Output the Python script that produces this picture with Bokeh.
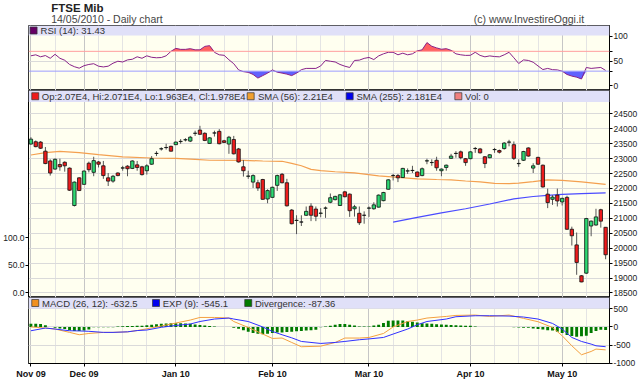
import numpy as np
from bokeh.plotting import figure
from bokeh.layouts import column
from bokeh.models import (Range1d, LinearAxis, FixedTicker, BoxAnnotation, Span, Label,
                          PrintfTickFormatter, Grid)
from bokeh.core.properties import value
from bokeh.embed import file_html
from bokeh.resources import INLINE

FONT = "Liberation Sans"

# ---------------- data ----------------
month_ticks = [0, 11, 30, 50, 70, 91, 110]
month_labels = ["Nov 09", "Dec 09", "Jan 10", "Feb 10", "Mar 10", "Apr 10", "May 10"]
week_ticks = [5, 14, 19, 24, 35, 40, 45, 55, 60, 65, 75, 80, 85, 96, 101, 105, 115]

opens = [
    23487, 23564, 23553, 23248, 22921, 22649, 22801, 22877, 22681, 21429,
    22355, 22137, 22845, 22540, 22888, 22758, 22355, 22246, 22518, 22681,
    22747, 22671, 22790, 22725, 22594, 22812, 23171, 23324, 23368, 23411,
    23466, 23570, 23625, 23585, 23845, 23955, 23847, 23509, 23855, 23912,
    23596, 23487, 23640, 23324, 22725, 22409, 22213, 22191, 22300, 21647,
    21701, 22104, 22474, 22191, 21277, 20928, 20873, 21102, 21407, 21310,
    21168, 21340, 21538, 21625, 21429, 21886, 21810, 21320, 21168, 21100,
    21340, 21320, 21375, 21592, 21973, 22431, 22431, 22366, 22583, 22600,
    22551, 22431, 22921, 22866, 22943, 22594, 22703, 23008, 23171, 23226,
    22997, 22997, 23335, 23324, 23062, 23030, 23300, 23269, 23335, 23550,
    23466, 22830, 22943, 23357, 22681, 23041, 22779, 21810, 21636, 21777,
    21549, 21701, 20634, 20111, 19077, 19164, 20743, 20776, 21288, 20700,
]
highs = [
    23716, 23607, 23585, 23389, 22975, 23008, 22997, 22910, 22703, 22235,
    22377, 22605, 22899, 23062, 22921, 22921, 22518, 22453, 22540, 22758,
    22779, 22943, 22921, 22758, 22812, 23084, 23248, 23378, 23498, 23433,
    23564, 23651, 23683, 23760, 23934, 24097, 23880, 23716, 23934, 23988,
    23629, 23760, 23760, 23357, 22953, 22594, 22474, 22289, 22322, 21973,
    22060, 22464, 22518, 22322, 21310, 21102, 21102, 21396, 21505, 21396,
    21342, 21396, 21832, 21756, 21810, 21919, 21832, 21451, 21396, 21233,
    21396, 21538, 21800, 21886, 22310, 22485, 22485, 22690, 22671, 22758,
    22570, 22703, 22997, 22975, 23062, 22671, 22801, 23160, 23248, 23269,
    23019, 23248, 23389, 23357, 23084, 23150, 23357, 23302, 23553, 23629,
    23574, 22975, 23260, 23378, 22845, 23062, 22801, 21995, 21777, 21995,
    21690, 21756, 20721, 20525, 19099, 21015, 20928, 21320, 21320, 20710,
]
lows = [
    23466, 23378, 23324, 22812, 22431, 22627, 22594, 22562, 21919, 21396,
    21919, 22126, 22540, 22409, 22703, 22322, 22082, 22191, 22409, 22594,
    22409, 22649, 22594, 22431, 22464, 22790, 23084, 23269, 23302, 23237,
    23455, 23498, 23574, 23553, 23760, 23792, 23585, 23498, 23738, 23477,
    23520, 23160, 23139, 22866, 22398, 22322, 22017, 21919, 21625, 21505,
    21690, 21919, 22170, 21396, 20797, 20471, 20743, 21080, 20906, 20906,
    21037, 21015, 21505, 21600, 21418, 21701, 21048, 21059, 20776, 20819,
    21048, 21288, 21360, 21570, 21960, 22268, 22213, 22350, 22485, 22518,
    22380, 22409, 22812, 22758, 22594, 22409, 22594, 22990, 23030, 22975,
    22758, 22980, 23193, 23171, 22681, 23010, 23193, 23171, 23302, 23411,
    22953, 22725, 22920, 23062, 22518, 22790, 22028, 21342, 21451, 21396,
    21429, 20612, 20090, 19109, 18860, 19140, 20400, 20754, 20689, 19630,
]
closes = [
    23651, 23400, 23346, 22834, 22518, 22975, 22725, 22758, 21941, 22213,
    21930, 22583, 22627, 22932, 22812, 22431, 22246, 22409, 22431, 22690,
    22660, 22921, 22703, 22464, 22758, 22997, 23175, 23330, 23372, 23248,
    23553, 23578, 23632, 23716, 23850, 23814, 23607, 23694, 23860, 23498,
    23542, 23716, 23160, 22888, 22594, 22415, 22431, 22017, 21636, 21930,
    22039, 22431, 22191, 21418, 20819, 20935, 20880, 21233, 21102, 21070,
    21175, 21345, 21690, 21734, 21788, 21723, 21255, 21386, 20852, 21105,
    21345, 21451, 21777, 21865, 22289, 22436, 22355, 22671, 22590, 22605,
    22398, 22660, 22926, 22870, 22692, 22649, 22779, 23084, 23175, 23030,
    22866, 23226, 23340, 23193, 22834, 23128, 23305, 23215, 23520, 23555,
    23008, 22838, 23237, 23084, 22758, 22812, 22050, 21527, 21712, 21581,
    21669, 20634, 20416, 19523, 18870, 20993, 20906, 21048, 20906, 19780,
]

sma56_x = [0, 3, 6, 10, 14, 19, 25, 30, 34, 37, 44, 48, 52, 54, 56, 58, 60, 63, 67,
           72, 76, 80, 84, 87, 90, 93, 96, 99, 101, 104, 107, 110, 114, 119]
sma56 = [23120, 23200, 23240, 23200, 23130, 23060, 23020, 23010, 22975, 22945, 22940,
         22920, 22910, 22840, 22760, 22640, 22600, 22560, 22520, 22420, 22370, 22320,
         22300, 22290, 22250, 22220, 22170, 22160, 22180, 22230, 22290, 22270, 22220, 22140]

sma255_x = [75, 80, 85, 90, 95, 100, 104, 107, 110, 114, 119]
sma255 = [20875, 21030, 21180, 21320, 21480, 21650, 21730, 21770, 21800, 21825, 21850]

rsi = [
    61, 63, 59, 61.5, 56, 64, 56, 52, 43.5, 39,
    36, 41, 43.5, 45, 40, 38.5, 40, 46, 50, 48.5,
    52.7, 54, 59, 56, 61, 58, 57, 57.5, 61, 70,
    76, 74, 74, 75.4, 73, 73, 80, 81.5, 68, 63,
    62, 53, 45, 32.5, 29, 27.6, 23.3, 16, 21, 26,
    32.5, 28, 26, 24, 21, 26, 33, 35.5, 35.5, 35.5,
    40.5, 51.6, 50, 48.5, 43.5, 40, 37.4, 51.6, 52.2, 55.8,
    57.7, 53.4, 60.8, 65, 68.1, 68.1, 63, 66.3, 63, 65,
    71, 73, 87.7, 80.3, 77, 74.2, 75.4, 72, 65, 63,
    61.8, 62, 68.1, 61.8, 58.9, 60.8, 59.5, 58.9, 63, 68.1,
    57, 45.4, 52.7, 51.6, 48, 40.5, 33.2, 35.5, 33, 32.5,
    30, 23.3, 20, 17.8, 14.1, 37.4, 35.5, 36.5, 37.4, 31.43,
]

macd_x = [0, 3, 5, 8, 10, 12, 15, 17, 20, 22, 24, 27, 30, 33, 35, 38, 41, 42, 45, 48,
          50, 52, 54, 56, 60, 63, 65, 68, 70, 73, 75, 78, 80, 82, 86, 88, 92, 95, 99,
          102, 105, 108, 110, 112, 114, 116, 117, 119]
macd = [0, -30, -58, -150, -215, -180, -150, -150, -135, -100, -50, 25, 108, 190, 262,
        262, 245, 150, -14, -196, -317, -306, -428, -546, -530, -428, -306, -306, -290,
        -180, 0, 150, 190, 245, 290, 318, 328, 290, 328, 236, 144, -14, -243, -519,
        -767, -676, -610, -632.5]
signal = [-105, -30, -58, -105, -110, -120, -150, -150, -135, -100, -85, -10, 41, 80, 150,
          218, 245, 218, 150, 0, -124, -215, -300, -400, -455, -428, -400, -353, -330,
          -290, -196, -58, 60, 150, 218, 282, 309, 309, 300, 273, 218, 97, -58, -290,
          -400, -473, -519, -545.1]
divergence = [
    90, 90, 80, 50, 0, -20, -40, -60, -90, -110,
    -110, -95, -70, -10, -5, -10, -10, -10, 10, 20,
    25, 25, 30, 35, 45, 60, 75, 85, 95, 100,
    105, 100, 95, 85, 70, 55, 40, 25, 10, 0,
    0, 0, -20, -50, -90, -130, -170, -190, -200, -190,
    -170, -150, -150, -140, -130, -120, -110, -100, -90, -80,
    -10, 10, 30, 60, 80, 80, 60, 40, 10, 10,
    10, 37, 60, 110, 170, 180, 180, 175, 160, 140,
    120, 100, 95, 85, 75, 70, 60, 55, 50, 40,
    35, 30, 10, 0, 0, 0, 0, 0, 0, 0,
    -10, -15, -20, -25, -40, -55, -70, -90, -100, -130,
    -170, -220, -250, -270, -260, -240, -170, -110, -80, -87.36,
]

# ---------------- layout constants ----------------
W = 640
LB, RB = 25, 28
BG = "#FFFFF0"
BAND = "#E0E0F8"
GREEN = "#2ED872"
RED = "#EE1C1C"
TXT = "#333333"

bars = np.arange(len(opens))
o = np.array(opens, float); c = np.array(closes, float)
h = np.array(highs, float); l = np.array(lows, float)
xr = Range1d(-0.5, 119.8)


def style_axis(ax, size="8.5px"):
    ax.major_tick_in = 0
    ax.major_tick_out = 3
    ax.minor_tick_in = 0
    ax.minor_tick_out = 0
    ax.axis_line_color = "#000000"
    ax.major_tick_line_color = "#000000"
    ax.major_label_text_font = FONT
    ax.major_label_text_font_size = size
    ax.major_label_text_color = "#222222"
    ax.major_label_standoff = 1


def panel(height, y_range, bottom=0):
    p = figure(width=W, height=height, x_range=xr, y_range=y_range,
               x_axis_location=None, y_axis_location=None,
               toolbar_location=None, output_backend="svg",
               min_border_left=LB, min_border_right=RB,
               min_border_top=0, min_border_bottom=bottom,
               background_fill_color=BG, border_fill_color="white",
               outline_line_color="#333333", outline_line_width=1)
    p.grid.visible = False
    p.add_layout(Grid(dimension=0,
                      ticker=FixedTicker(ticks=month_ticks, minor_ticks=week_ticks),
                      grid_line_color="#C6C6C6", minor_grid_line_color="#E4E4E4"))
    return p


def band_items(p, ys, items):
    xs_sq = [it[0] for it in items]
    p.scatter(x=xs_sq, y=[ys] * len(items), marker="square", size=7,
              fill_color=[it[2] for it in items], line_color="#333333",
              line_width=0.7, level="overlay")
    p.text(x=[it[1] for it in items], y=[ys] * len(items),
           text=[it[3] for it in items], text_font=value(FONT),
           text_font_size="9.5px", text_baseline="middle", text_color=TXT,
           level="overlay")


# ---------------- header ----------------
hdr = figure(width=W, height=25, x_range=Range1d(0, W), y_range=Range1d(0, 25),
             x_axis_location=None, y_axis_location=None, toolbar_location=None,
             output_backend="svg", min_border=0, outline_line_color=None,
             background_fill_color="white", border_fill_color="white")
hdr.grid.visible = False
hdr.text(x=[LB], y=[24], text=["FTSE Mib"], text_font=value(FONT),
         text_font_size="11.5px", text_font_style="bold", text_baseline="top",
         text_color="#222222")
hdr.text(x=[LB], y=[13], text=["14/05/2010 - Daily chart"], text_font=value(FONT),
         text_font_size="10.5px", text_baseline="top", text_color="#444444")
hdr.text(x=[W - RB], y=[13], text=["(c) www.InvestireOggi.it"], text_font=value(FONT),
         text_font_size="10.5px", text_baseline="top", text_align="right",
         text_color="#444444")

# ---------------- RSI ----------------
rsi_a = np.array(rsi, float)
p1 = panel(65, Range1d(-9.1, 122.2))
p1.add_layout(Grid(dimension=1, ticker=FixedTicker(ticks=[50]), grid_line_color="#DADADA"))
p1.varea(x=bars, y1=70, y2=np.maximum(rsi_a, 70), fill_color="#FF5050", fill_alpha=0.9)
p1.varea(x=bars, y1=np.minimum(rsi_a, 30), y2=30, fill_color="#5050FF", fill_alpha=0.9)
p1.add_layout(Span(location=70, dimension="width", line_color="#FF9E9E", line_width=1))
p1.add_layout(Span(location=30, dimension="width", line_color="#9E9EFF", line_width=1))
p1.line(bars, rsi_a, line_color="#882288", line_width=1)
ax1 = LinearAxis(ticker=FixedTicker(ticks=[0, 30, 50, 70, 100]),
                 major_label_overrides={30: "", 70: ""})
style_axis(ax1)
p1.add_layout(ax1, "right")
for lv, col in [(70, "#FF7A7A"), (30, "#7A7AFF")]:
    p1.add_layout(Label(x=119.8, y=lv, x_offset=4, text=str(lv), text_font=FONT,
                        text_font_size="8.5px", text_color=col, text_baseline="middle"))
p1.add_layout(BoxAnnotation(bottom=102, fill_color=BAND, fill_alpha=1, line_color=None))
band_items(p1, 112.1, [(0.55, 2.0, "#660066", "RSI (14): 31.43")])

# ---------------- Price ----------------
p2 = panel(207, Range1d(18349, 25280))
p2.extra_y_ranges = {"vol": Range1d(-8.2, 368.2)}
p2.add_layout(Grid(dimension=1, ticker=FixedTicker(ticks=list(range(18500, 25000, 500))),
                   grid_line_color="#DADADA"))
p2.line(sma56_x, sma56, line_color="#F4A050", line_width=1.2)
p2.line(sma255_x, sma255, line_color="#4B4BFF", line_width=1.2)
p2.segment(x0=bars, y0=l, x1=bars, y1=h, line_color="#555555", line_width=1)
colors = [GREEN if cc > oo else RED for oo, cc in zip(opens, closes)]
p2.vbar(x=bars, width=0.7, top=np.maximum(o, c), bottom=np.minimum(o, c),
        fill_color=colors, line_color="#111111", line_width=0.8)
ax2 = LinearAxis(ticker=FixedTicker(ticks=list(range(18500, 25000, 500))),
                 formatter=PrintfTickFormatter(format="%d"))
style_axis(ax2)
p2.add_layout(ax2, "right")
ax2l = LinearAxis(y_range_name="vol", ticker=FixedTicker(ticks=[0, 50, 100]),
                  formatter=PrintfTickFormatter(format="%.1f"))
style_axis(ax2l, "8.5px")
p2.add_layout(ax2l, "left")
p2.add_layout(BoxAnnotation(bottom=24895, fill_color=BAND, fill_alpha=1, line_color=None))
band_items(p2, 25088, [
    (0.9, 2.25, RED, "Op:2.07E4, Hi:2.071E4, Lo:1.963E4, Cl:1.978E4"),
    (45.5, 47.0, "#F0A030", "SMA (56): 2.21E4"),
    (66.0, 67.4, "#0000EE", "SMA (255): 2.181E4"),
    (88.5, 89.9, "#F08080", "Vol: 0"),
])

# ---------------- MACD ----------------
div_a = np.array(divergence, float)
p3 = panel(86, Range1d(-1008, 812), bottom=20)
p3.add_layout(Grid(dimension=1, ticker=FixedTicker(ticks=[500, 0, -500]),
                   grid_line_color="#DADADA"))
p3.vbar(x=bars, width=0.6, top=np.maximum(div_a, 0), bottom=np.minimum(div_a, 0),
        fill_color="#007A00", line_color=None)
p3.line(macd_x, macd, line_color="#F4A040", line_width=1)
p3.line(macd_x, signal, line_color="#3030FF", line_width=1)
ax3 = LinearAxis(ticker=FixedTicker(ticks=[500, 0, -500, -1000]),
                 formatter=PrintfTickFormatter(format="%d"))
style_axis(ax3)
p3.add_layout(ax3, "right")
axx = LinearAxis(ticker=FixedTicker(ticks=month_ticks, minor_ticks=week_ticks),
                 major_label_overrides={t: s for t, s in zip(month_ticks, month_labels)})
style_axis(axx, "9px")
axx.major_label_text_font_style = "bold"
axx.major_label_text_color = "#111111"
axx.major_label_standoff = 2
p3.add_layout(axx, "below")
p3.add_layout(BoxAnnotation(bottom=509, fill_color=BAND, fill_alpha=1, line_color=None))
band_items(p3, 660, [
    (0.9, 2.3, "#F09020", "MACD (26, 12): -632.5"),
    (25.9, 27.3, "#0000EE", "EXP (9): -545.1"),
    (45.0, 46.4, "#007A00", "Divergence: -87.36"),
])

layout = column(hdr, p1, p2, p3, spacing=0)
open("out.html", "w").write(file_html(layout, INLINE))
